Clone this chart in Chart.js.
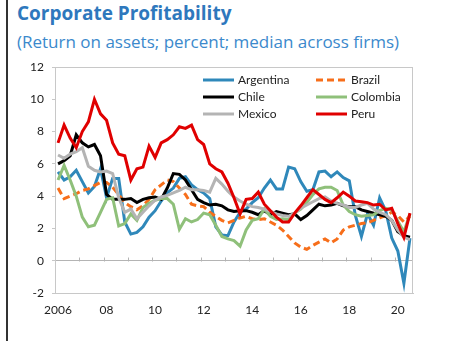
<!DOCTYPE html>
<html>
<head>
<meta charset="utf-8">
<script src="https://cdn.jsdelivr.net/npm/chart.js@4.4.0/dist/chart.umd.min.js"></script>
<style>
  html, body { margin: 0; padding: 0; background: #fff; }
  #wrap { position: relative; width: 459px; height: 341px; overflow: hidden; font-family: Lato, "Open Sans", sans-serif; }
  #frame { position: absolute; left: 6px; top: 0; width: 2px; height: 341px; background: #333; }
  #title { position: absolute; left: 17px; top: 2px; font-family: "Open Sans", Lato, sans-serif; font-weight: bold; font-size: 19px; line-height: 1.2; color: #2E78BD; white-space: nowrap; }
  #subtitle { position: absolute; left: 17px; top: 32px; font-family: "Open Sans", Lato, sans-serif; font-size: 17px; line-height: 1.2; color: #3B89CC; white-space: nowrap; }
  canvas { position: absolute; left: 0; top: 0; }
</style>
</head>
<body>
<div id="wrap">
  <div id="frame"></div>
  <div id="title">Corporate Profitability</div>
  <div id="subtitle">(Return on assets; percent; median across firms)</div>
  <canvas id="chart" width="459" height="341"></canvas>
</div>
<script>
// Quarterly medians, 2006Q1 to 2020Q3
const firstYear = 2006;
const lastYear = 2020;
const quarterCount = 59;
const yearTickLabels = ['2006', '08', '10', '12', '14', '16', '18', '20'];

const argentina = [5.5, 5.0, 5.2, 5.6, 4.9, 4.2, 4.6, 5.7, 3.9, 5.1,
  5.1, 2.4, 1.65, 1.75, 2.1, 2.7, 3.1, 3.7, 4.2, 4.5,
  5.1, 5.2, 4.7, 4.4, 4.2, 3.85, 2.1, 1.6, 1.55, 2.4,
  3.0, 3.2, 3.6, 3.9, 4.5, 5.0, 4.45, 4.45, 5.8, 5.7,
  4.9, 4.3, 4.4, 5.5, 5.55, 5.2, 5.5, 5.15, 4.95, 2.8,
  1.5, 2.9, 2.2, 3.9, 3.1, 1.4, 0.6, -1.4, 1.4];

const brazil = [4.5, 3.85, 4.0, 4.15, 4.35, 4.45, 4.65, 4.85, 4.85, 4.55,
  4.1, 3.6, 3.35, 3.15, 3.4, 3.8, 4.4, 4.7, 5.0, 4.9,
  4.5, 4.1, 3.5, 3.4, 3.35, 3.0, 2.75, 2.5, 2.35, 2.5,
  2.65, 2.75, 2.6, 2.55, 2.6, 2.4, 2.2, 1.9, 1.5, 1.1,
  0.85, 0.7, 0.95, 1.15, 1.35, 1.1, 1.35, 1.9, 2.1, 2.2,
  2.3, 2.35, 2.5, 2.65, 2.8, 3.0, 2.8, 2.4, 2.75];

const chile = [6.0, 6.2, 6.5, 7.8, 7.3, 7.05, 7.2, 6.5, 4.1, 3.8,
  3.8, 3.8, 3.85, 3.6, 3.8, 3.9, 3.95, 3.8, 4.5, 5.4,
  5.35, 5.0, 4.4, 3.8, 3.6, 3.45, 3.5, 3.4, 3.15, 3.05,
  3.1, 3.1, 3.0, 2.85, 3.1, 2.85, 3.05, 2.95, 2.85, 2.9,
  2.55, 2.8, 3.15, 3.5, 3.4, 3.45, 3.55, 3.4, 3.35, 3.35,
  3.15, 3.05, 2.95, 2.85, 2.75, 2.5, 1.8, 1.55, 1.45];

const colombia = [5.0, 5.9, 5.0, 4.0, 2.7, 2.1, 2.2, 3.0, 3.8, 3.9,
  2.15, 2.3, 2.9, 2.5, 3.3, 3.55, 3.75, 3.85, 3.85, 3.5,
  1.95, 2.6, 2.4, 2.55, 2.95, 2.85, 2.2, 1.5, 1.35, 1.25,
  0.9, 1.9, 2.5, 2.6, 3.2, 2.75, 2.55, 2.6, 2.55, 2.95,
  3.2, 3.6, 4.1, 4.45, 4.55, 4.55, 4.35, 3.45, 3.05, 2.85,
  2.75, 2.8, 2.85, 3.1, 3.25, 3.15, 2.45, 1.8, 2.9];

const mexico = [6.55, 6.35, 6.6, 6.75, 7.0, 5.85, 5.6, 5.5, 5.55, 5.4,
  3.9, 3.0, 3.2, 2.6, 3.0, 3.4, 3.75, 3.95, 4.05, 4.2,
  4.35, 4.55, 4.4, 4.4, 4.35, 4.25, 5.1, 4.75, 4.3, 3.95,
  3.7, 3.5, 3.35, 3.3, 3.2, 3.05, 2.9, 2.8, 2.75, 2.95,
  3.25, 3.45, 3.65, 3.85, 3.95, 3.7, 3.55, 3.45, 3.3, 3.3,
  3.45, 3.55, 3.2, 3.0, 2.85, 2.5, 1.9, 1.45, 1.3];

const peru = [7.3, 8.4, 7.6, 7.0, 8.0, 8.6, 10.0, 9.1, 8.7, 7.3,
  6.6, 6.5, 5.0, 5.7, 5.8, 7.1, 6.4, 7.3, 7.5, 7.8,
  8.3, 8.2, 8.4, 7.5, 7.2, 6.0, 5.7, 5.5, 4.8, 3.9,
  2.9, 3.8, 3.85, 4.25, 3.5, 3.1, 2.7, 2.4, 2.4, 2.95,
  3.4, 3.9, 4.4, 4.1, 3.8, 3.6, 3.9, 4.25, 4.0, 3.7,
  3.65, 3.6, 3.45, 3.5, 3.15, 3.25, 2.3, 1.45, 2.95];

const countries = ['Argentina', 'Brazil', 'Chile', 'Colombia', 'Mexico', 'Peru'];
const seriesValues = [argentina, brazil, chile, colombia, mexico, peru];
const seriesColors = ['#2F88BA', '#F76E1A', '#000000', '#8FC07A', '#B4B4B4', '#E00000'];
const seriesDash = [[], [7, 4], [], [], [], []];

// Quarter labels: quarter index i sits at x = i on the linear axis
const quarters = [];
for (let yr = firstYear; yr <= lastYear; yr++) {
  for (let q = 1; q <= 4; q++) quarters.push(yr + 'Q' + q);
}
quarters.length = quarterCount;

const datasets = countries.map((name, k) => ({
  label: name,
  data: seriesValues[k].map((v, i) => ({ x: i, y: v })),
  borderColor: seriesColors[k],
  backgroundColor: seriesColors[k],
  borderWidth: 3,
  borderDash: seriesDash[k],
  borderCapStyle: 'butt',
  borderJoinStyle: 'miter',
  pointRadius: 0,
  tension: 0,
  fill: false,
  order: countries.length - k
}));

// Legend slots inside the plot, two columns
const legendSlots = [[203, 80], [316, 80], [203, 97], [316, 97], [203, 114], [316, 114]];

const decor = {
  id: 'decor',
  beforeDatasetsDraw(chart) {
    const { ctx, chartArea: a, scales: { x, y } } = chart;
    ctx.save();
    ctx.lineWidth = 1;
    ctx.strokeStyle = '#C8C8C8';
    ctx.beginPath();
    ctx.moveTo(a.left, Math.round(a.top) + 0.5);
    ctx.lineTo(a.right, Math.round(a.top) + 0.5);
    ctx.moveTo(Math.round(a.right) - 0.5, a.top);
    ctx.lineTo(Math.round(a.right) - 0.5, a.bottom);
    ctx.stroke();
    // year tick marks sitting on the zero line
    const y0 = Math.round(y.getPixelForValue(0)) + 0.5;
    ctx.strokeStyle = '#B4B4B4';
    ctx.beginPath();
    x.ticks.forEach(t => {
      const px = Math.round(x.getPixelForValue(t.value)) + 0.5;
      if (px > a.left + 1 && px < a.right - 1) {
        ctx.moveTo(px, y0);
        ctx.lineTo(px, y0 - 4);
      }
    });
    ctx.stroke();
    ctx.restore();
  },
  afterDraw(chart) {
    const { ctx } = chart;
    ctx.save();
    ctx.font = '12px Lato, "Open Sans", sans-serif';
    ctx.textBaseline = 'middle';
    ctx.textAlign = 'left';
    chart.data.datasets.forEach((ds, i) => {
      const [lx, ly] = legendSlots[i];
      ctx.strokeStyle = ds.borderColor;
      ctx.lineWidth = ds.borderWidth;
      ctx.lineCap = 'butt';
      ctx.setLineDash(ds.borderDash || []);
      ctx.beginPath();
      ctx.moveTo(lx, ly);
      ctx.lineTo(lx + 31, ly);
      ctx.stroke();
      ctx.setLineDash([]);
      ctx.fillStyle = '#222';
      ctx.fillText(ds.label, lx + 35, ly + 0.5);
    });
    ctx.restore();
  }
};

Chart.defaults.font.family = 'Lato, "Open Sans", sans-serif';
Chart.defaults.font.size = 12;
Chart.defaults.color = '#222';

new Chart(document.getElementById('chart'), {
  type: 'line',
  data: { labels: quarters, datasets },
  options: {
    responsive: false,
    animation: false,
    devicePixelRatio: 1,
    layout: { padding: { top: 67, right: 46, bottom: 0, left: 0 } },
    plugins: { legend: { display: false }, tooltip: { enabled: false }, title: { display: false } },
    scales: {
      x: {
        type: 'linear',
        min: -0.5,
        max: quarterCount - 0.5,
        afterFit(s) { s.height = 48; },
        afterBuildTicks(s) {
          const t = [];
          for (let yr = firstYear; yr <= lastYear; yr++) t.push({ value: (yr - firstYear) * 4 - 0.5 });
          s.ticks = t;
        },
        ticks: {
          autoSkip: false,
          maxRotation: 0,
          padding: 10,
          labelOffset: 3,
          callback: (v, i) => (i % 2 === 0 ? yearTickLabels[i / 2] : '')
        },
        grid: { drawOnChartArea: false, drawTicks: false },
        border: { display: true, color: '#C8C8C8', width: 1 }
      },
      y: {
        min: -2,
        max: 12,
        afterFit(s) { s.width = 55; },
        ticks: { stepSize: 2, padding: 8 },
        grid: {
          drawOnChartArea: true,
          color: c => (c.tick && c.tick.value === 0 ? '#B4B4B4' : 'rgba(0,0,0,0)'),
          tickColor: '#C8C8C8',
          tickLength: 3
        },
        border: { display: true, color: '#C8C8C8', width: 1 }
      }
    }
  },
  plugins: [decor]
});
</script>
</body>
</html>
